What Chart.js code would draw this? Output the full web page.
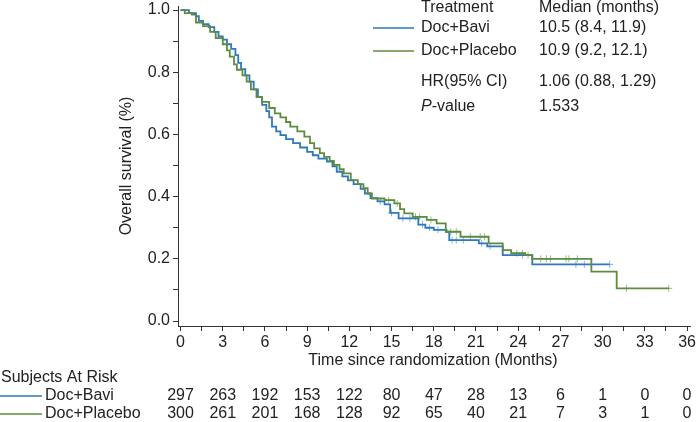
<!DOCTYPE html>
<html>
<head>
<meta charset="utf-8">
<script src="https://cdn.jsdelivr.net/npm/chart.js@4.4.1/dist/chart.umd.min.js"></script>
<style>
  html, body { margin: 0; padding: 0; background: #fff; }
  #wrap { width: 696px; height: 422px; }
</style>
</head>
<body>
<div id="wrap"><canvas id="kmChart" width="696" height="422"></canvas></div>
<script>
// KM curves (months, survival)
const baviTime = [0, 0.6, 1.1, 1.3, 1.6, 2.0, 2.4, 2.7, 3.0, 3.3, 3.6, 3.9, 4.1, 4.3, 4.6, 4.9, 5.2, 5.5, 5.8, 6.1, 6.3, 6.5, 6.8, 7.1, 7.5, 8.0, 8.5, 9.0, 9.4, 9.8, 10.4, 10.8, 11.1, 11.5, 11.9, 12.3, 12.8, 13.1, 13.5, 14.0, 14.5, 14.9, 15.5, 16.9, 17.4, 18.0, 18.9, 19.1, 21.2, 21.8, 22.9, 25.0, 30.5];
const baviSurv = [1.0, 0.99, 0.98, 0.965, 0.955, 0.945, 0.93, 0.915, 0.905, 0.89, 0.875, 0.855, 0.83, 0.81, 0.79, 0.77, 0.745, 0.72, 0.695, 0.675, 0.655, 0.625, 0.61, 0.598, 0.585, 0.572, 0.558, 0.544, 0.533, 0.522, 0.513, 0.497, 0.48, 0.465, 0.452, 0.44, 0.425, 0.41, 0.395, 0.385, 0.375, 0.348, 0.33, 0.31, 0.3, 0.293, 0.287, 0.26, 0.25, 0.24, 0.212, 0.182, 0.182];

const placeboTime = [0, 0.3, 0.8, 1.1, 1.6, 2.1, 2.5, 3.0, 3.3, 3.5, 3.8, 4.0, 4.4, 4.7, 5.0, 5.4, 5.8, 6.3, 6.7, 7.1, 7.5, 7.8, 8.3, 8.8, 9.2, 9.5, 9.9, 10.2, 10.6, 10.9, 11.3, 11.6, 12.1, 12.6, 13.0, 13.3, 13.6, 14.5, 15.2, 15.6, 15.9, 16.5, 17.5, 18.2, 18.85, 19.9, 21.9, 22.9, 23.5, 24.5, 25.0, 29.2, 31.0, 34.7];
const placeboSurv = [1.0, 0.99, 0.985, 0.96, 0.948, 0.93, 0.91, 0.89, 0.87, 0.85, 0.825, 0.808, 0.79, 0.77, 0.745, 0.72, 0.705, 0.685, 0.668, 0.655, 0.64, 0.625, 0.61, 0.593, 0.572, 0.555, 0.54, 0.528, 0.515, 0.502, 0.488, 0.475, 0.453, 0.44, 0.427, 0.41, 0.394, 0.389, 0.378, 0.36, 0.346, 0.335, 0.325, 0.314, 0.287, 0.271, 0.25, 0.228, 0.218, 0.212, 0.2, 0.159, 0.105, 0.105];

// censoring marks (months)
const baviCensor = [14.2, 15.0, 15.8, 16.3, 17.2, 17.7, 18.3, 19.3, 19.6, 20.1, 21.4, 22.0, 24.3, 28.1, 28.7, 30.5];
const placeboCensor = [14.8, 15.4, 16.7, 17.0, 17.8, 19.2, 19.6, 20.6, 21.3, 21.6, 23.9, 24.3, 24.7, 25.6, 26.0, 26.3, 27.4, 27.6, 28.2, 31.7, 34.7];

// axes
const xTickValues = [0, 1.5, 3, 4.5, 6, 7.5, 9, 10.5, 12, 13.5, 15, 16.5, 18, 19.5, 21, 22.5, 24, 25.5, 27, 28.5, 30, 31.5, 33, 34.5, 36];
const yTickValues = [0, 0.1, 0.2, 0.3, 0.4, 0.5, 0.6, 0.7, 0.8, 0.9, 1.0];

// subjects at risk
const riskTimes = [0, 3, 6, 9, 12, 15, 18, 21, 24, 27, 30, 33, 36];
const riskBavi = [297, 263, 192, 153, 122, 80, 47, 28, 13, 6, 1, 0, 0];
const riskPlacebo = [300, 261, 201, 168, 128, 92, 65, 40, 21, 7, 3, 1, 0];

// legend block
const armNames = ['Doc+Bavi', 'Doc+Placebo'];
const armMedians = ['10.5 (8.4, 11.9)', '10.9 (9.2, 12.1)'];
const hrText = '1.06 (0.88, 1.29)';
const pText = '1.533';

const BLUE = '#2f78bd';
const GREEN = '#5e8c3e';
const FONT = '"Liberation Sans", Arial, sans-serif';
const FS = 16;

const toPoints = (ts, ss) => ts.map((t, i) => ({ x: t, y: ss[i] }));
// survival value at time t from a step curve
const survAt = (ts, ss, t) => {
  let s = ss[0];
  for (let i = 0; i < ts.length; i++) { if (ts[i] <= t) s = ss[i]; }
  return s;
};
const censorPoints = (cs, ts, ss) => cs.map(t => ({ x: t, y: survAt(ts, ss, t) }));

const kmExtras = {
  id: 'kmExtras',
  afterDraw(chart) {
    const ctx = chart.ctx;
    const xs = chart.scales.x;
    ctx.save();
    ctx.fillStyle = '#222';
    ctx.textBaseline = 'middle';
    ctx.font = FS + 'px ' + FONT;

    // y title
    ctx.save();
    ctx.translate(127, 166);
    ctx.rotate(-Math.PI / 2);
    ctx.textAlign = 'center';
    ctx.fillText('Overall survival (%)', 0, 0);
    ctx.restore();

    // x title
    ctx.textAlign = 'center';
    ctx.fillText('Time since randomization (Months)', 433, 361);

    // legend block top right
    ctx.textAlign = 'left';
    ctx.fillText('Treatment', 421, 8);
    ctx.fillText('Median (months)', 539, 8);
    const rowY = [28, 51];
    [BLUE, GREEN].forEach((c, i) => {
      ctx.strokeStyle = c;
      ctx.lineWidth = 1.5;
      ctx.beginPath();
      ctx.moveTo(373, rowY[i]);
      ctx.lineTo(414, rowY[i]);
      ctx.stroke();
      ctx.fillText(armNames[i], 421, rowY[i]);
      ctx.fillText(armMedians[i], 539, rowY[i]);
    });
    ctx.fillText('HR(95% CI)', 421, 82);
    ctx.fillText(hrText, 539, 82);
    ctx.font = 'italic ' + FS + 'px ' + FONT;
    ctx.fillText('P', 421, 107);
    const pw = ctx.measureText('P').width;
    ctx.font = FS + 'px ' + FONT;
    ctx.fillText('-value', 421 + pw, 107);
    ctx.fillText(pText, 539, 107);

    // subjects at risk
    ctx.fillText('Subjects At Risk', 1, 378);
    const riskY = [396, 414];
    [BLUE, GREEN].forEach((c, i) => {
      ctx.strokeStyle = c;
      ctx.lineWidth = 1.5;
      ctx.beginPath();
      ctx.moveTo(0, riskY[i]);
      ctx.lineTo(42, riskY[i]);
      ctx.stroke();
      ctx.textAlign = 'left';
      ctx.fillText(armNames[i], 45, riskY[i]);
    });
    ctx.textAlign = 'center';
    riskTimes.forEach((t, i) => {
      const px = xs.getPixelForValue(t);
      ctx.fillText(String(riskBavi[i]), px, riskY[0]);
      ctx.fillText(String(riskPlacebo[i]), px, riskY[1]);
    });
    ctx.restore();
  }
};

const ctx = document.getElementById('kmChart').getContext('2d');
new Chart(ctx, {
  type: 'line',
  data: {
    datasets: [
      {
        label: 'Doc+Placebo',
        data: toPoints(placeboTime, placeboSurv),
        borderColor: GREEN,
        borderWidth: 1.8,
        stepped: 'before',
        pointRadius: 0,
        fill: false
      },
      {
        label: 'Doc+Bavi',
        data: toPoints(baviTime, baviSurv),
        borderColor: BLUE,
        borderWidth: 1.8,
        stepped: 'before',
        pointRadius: 0,
        fill: false
      },
      {
        type: 'scatter',
        label: 'Placebo censored',
        data: censorPoints(placeboCensor, placeboTime, placeboSurv),
        pointStyle: 'cross',
        pointRadius: 3.5,
        borderColor: '#9dbb85',
        backgroundColor: '#9dbb85',
        borderWidth: 1
      },
      {
        type: 'scatter',
        label: 'Bavi censored',
        data: censorPoints(baviCensor, baviTime, baviSurv),
        pointStyle: 'cross',
        pointRadius: 3.5,
        borderColor: '#86b6e2',
        backgroundColor: '#86b6e2',
        borderWidth: 1
      }
    ]
  },
  options: {
    responsive: false,
    animation: false,
    devicePixelRatio: 1,
    layout: { padding: { left: 120, right: 6, top: 6, bottom: 52 } },
    plugins: {
      legend: { display: false },
      tooltip: { enabled: false }
    },
    scales: {
      x: {
        type: 'linear',
        min: -0.18,
        max: 36.21,
        afterBuildTicks: (s) => { s.ticks = xTickValues.map(v => ({ value: v })); },
        afterFit: (s) => { s.height = 44; s.paddingLeft = 0; s.paddingRight = 0; },
        ticks: {
          color: '#222',
          font: { family: FONT, size: FS },
          padding: 2,
          maxRotation: 0,
          autoSkip: false,
          callback: (v) => (v % 3 === 0 ? String(v) : '')
        },
        grid: { drawOnChartArea: false, drawTicks: true, tickLength: 5, color: '#333' },
        border: { display: true, color: '#333', width: 1 }
      },
      y: {
        type: 'linear',
        min: -0.016,
        max: 1.013,
        afterBuildTicks: (s) => { s.ticks = yTickValues.map(v => ({ value: v })); },
        afterFit: (s) => { s.width = 58; s.paddingTop = 0; s.paddingBottom = 0; },
        ticks: {
          color: '#222',
          font: { family: FONT, size: FS },
          padding: 3,
          autoSkip: false,
          callback: (v) => (Math.round(v * 10) % 2 === 0 ? v.toFixed(1) : '')
        },
        grid: { drawOnChartArea: false, drawTicks: true, tickLength: 5, color: '#333' },
        border: { display: true, color: '#333', width: 1 }
      }
    }
  },
  plugins: [kmExtras]
});
</script>
</body>
</html>
